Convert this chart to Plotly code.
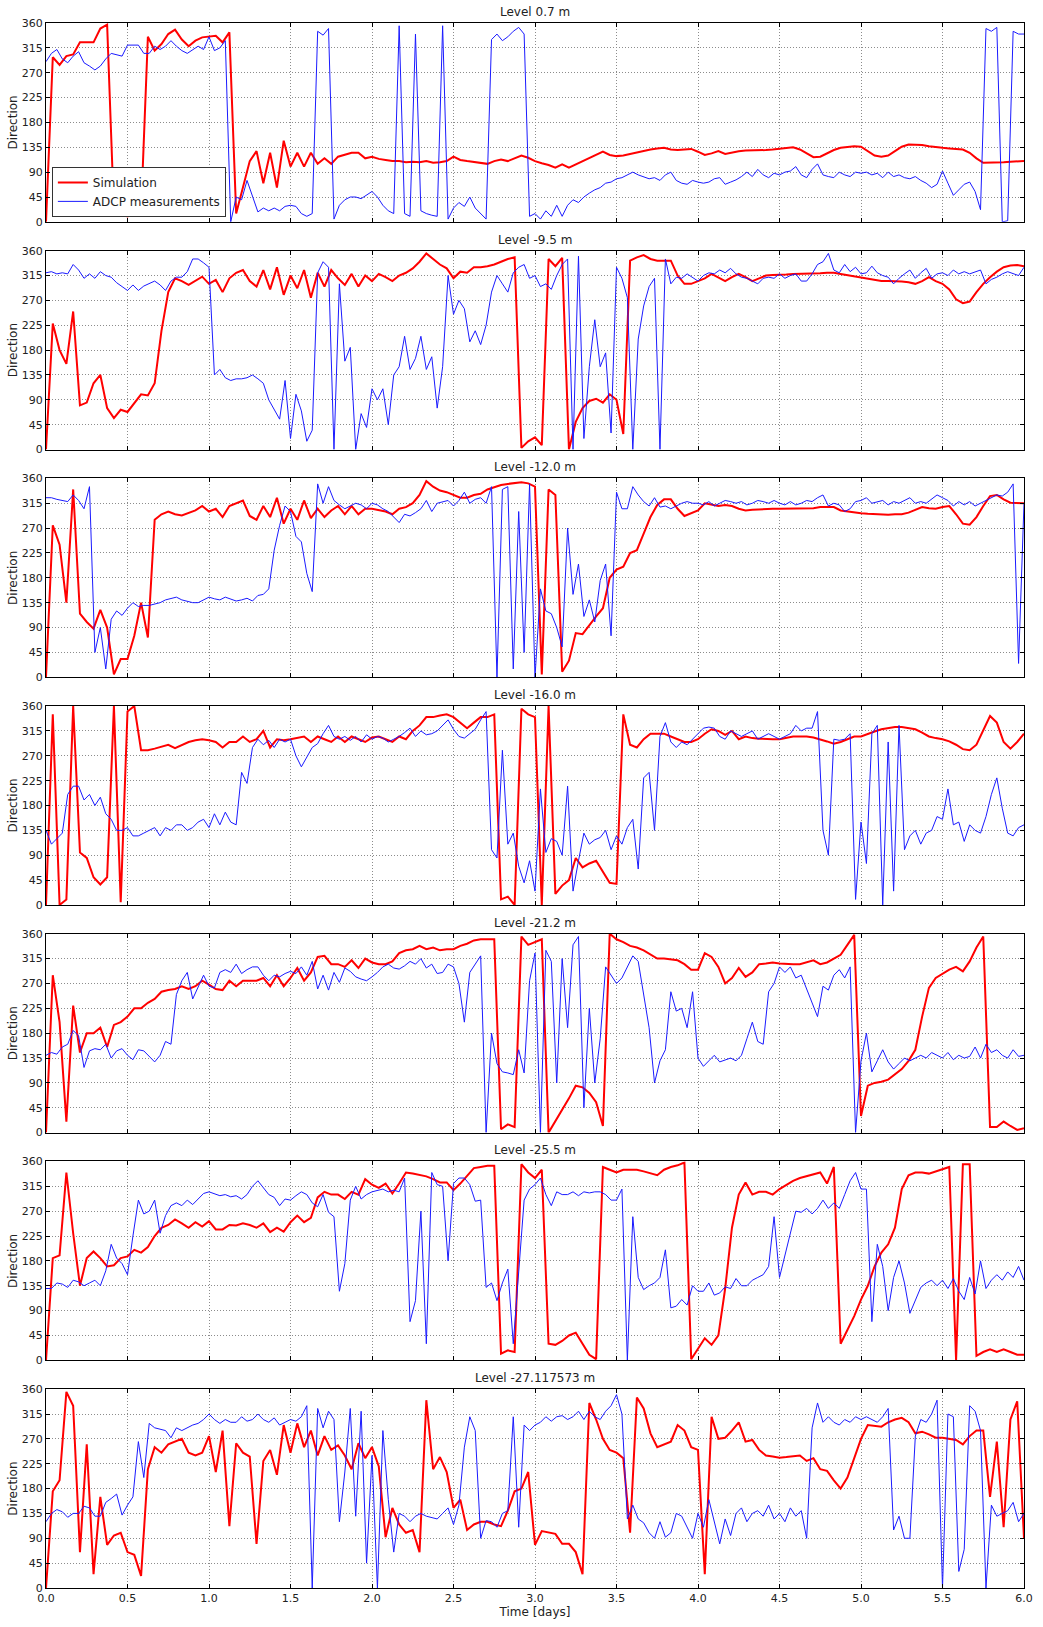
import numpy as np
import plotly.graph_objects as go

# ---------------------------------------------------------------------------
# Current direction (degrees) over 6 days at seven depth levels.
# Simulation output is hourly, ADCP record is every 48 minutes.
# ---------------------------------------------------------------------------
DAYS = 6.0
levels = ["Level 0.7 m", "Level -9.5 m", "Level -12.0 m", "Level -16.0 m",
          "Level -21.2 m", "Level -25.5 m", "Level -27.117573 m"]
series_names = ["Simulation", "ADCP measurements"]
y_ticks = [0, 45, 90, 135, 180, 225, 270, 315, 360]
x_ticks = [0.0, 0.5, 1.0, 1.5, 2.0, 2.5, 3.0, 3.5, 4.0, 4.5, 5.0, 5.5, 6.0]

# --- simulation, one row per half day --------------------------------------
sim_07 = [
    0, 298, 284, 300, 303, 325, 325, 325, 350, 357, 20, 15,
    10, 15, 20, 335, 310, 322, 340, 348, 330, 318, 328, 334,
    336, 337, 325, 343, 15, 62, 110, 128, 70, 125, 62, 147,
    100, 125, 100, 125, 105, 115, 105, 118, 122, 125, 125, 115,
    118, 114, 112, 110, 110, 108, 109, 108, 110, 107, 108, 110,
    118, 112, 110, 108, 106, 105, 110, 113, 110, 115, 120, 116,
    110, 106, 103, 98, 104, 98, 104, 110, 116, 122, 127, 121,
    119, 120, 123, 126, 129, 131, 133, 134, 131, 130, 131, 132,
    127, 121, 124, 128, 123, 126, 128, 129, 129, 130, 130, 131,
    132, 134, 135, 131, 124, 117, 118, 124, 130, 134, 136, 137,
    136, 128, 120, 118, 120, 128, 136, 140, 140, 139, 137, 135,
    134, 133, 132, 131, 125, 115, 107, 107, 107, 108, 109, 110,
    110]
sim_95 = [
    0, 228, 180, 155, 250, 80, 85, 120, 135, 75, 57, 72,
    68, 85, 100, 98, 120, 215, 285, 310, 305, 298, 305, 313,
    300, 307, 285, 310, 320, 325, 305, 295, 325, 290, 330, 280,
    315, 292, 325, 275, 320, 295, 325, 310, 298, 318, 295, 315,
    305, 318, 312, 305, 315, 320, 328, 340, 355, 345, 335, 328,
    310, 322, 320, 330, 330, 332, 335, 340, 345, 348, 3, 15,
    22, 8, 345, 332, 347, 0, 50, 75, 88, 92, 85, 100,
    90, 28, 342, 348, 352, 345, 342, 342, 342, 315, 300, 300,
    305, 310, 318, 312, 305, 312, 318, 312, 305, 310, 315, 316,
    316, 317, 318, 318, 318, 318, 319, 320, 320, 318, 316, 314,
    312, 310, 307, 305, 305, 305, 304, 303, 300, 305, 312, 305,
    300, 290, 272, 265, 268, 285, 300, 312, 322, 330, 333, 334,
    332]
sim_120 = [
    0, 275, 240, 135, 340, 115, 100, 88, 122, 90, 5, 33,
    33, 75, 135, 72, 285, 295, 300, 295, 293, 298, 302, 310,
    300, 305, 290, 310, 315, 320, 292, 285, 310, 290, 325, 278,
    305, 285, 320, 288, 305, 290, 302, 310, 295, 310, 295, 305,
    305, 303, 300, 295, 305, 308, 315, 330, 355, 345, 338, 335,
    330, 325, 325, 330, 332, 340, 344, 348, 350, 352, 353, 351,
    345, 5, 340, 330, 10, 30, 80, 78, 95, 110, 125, 180,
    195, 200, 225, 230, 260, 290, 312, 322, 322, 305, 292, 297,
    302, 315, 312, 310, 312, 310, 305, 302, 303, 304, 305, 305,
    305, 305, 305, 305, 306, 306, 308, 308, 308, 302, 300, 298,
    297, 296, 295, 294, 294, 295, 295, 298, 303, 308, 306, 305,
    308, 310, 295, 278, 276, 290, 310, 328, 330, 322, 316, 315,
    315]
sim_160 = [
    0, 345, 0, 10, 360, 95, 85, 50, 37, 50, 360, 5,
    350, 360, 280, 280, 283, 286, 290, 284, 290, 295, 298, 300,
    298, 295, 285, 295, 295, 305, 295, 300, 315, 285, 300, 298,
    300, 303, 305, 295, 305, 300, 295, 305, 295, 305, 300, 295,
    303, 305, 300, 295, 305, 300, 315, 325, 340, 340, 343, 345,
    340, 330, 320, 330, 340, 340, 345, 10, 15, 0, 355, 345,
    340, 0, 360, 20, 35, 45, 85, 68, 75, 80, 60, 40,
    38, 345, 290, 285, 300, 310, 310, 310, 305, 300, 295, 295,
    300, 310, 318, 315, 308, 315, 300, 305, 302, 301, 300, 300,
    300, 302, 305, 305, 305, 303, 300, 296, 292, 295, 300, 305,
    305, 310, 314, 318, 320, 322, 322, 320, 318, 312, 305, 302,
    300, 296, 290, 282, 280, 290, 315, 342, 330, 295, 283, 295,
    310]
sim_212 = [
    0, 285, 200, 20, 230, 145, 180, 180, 190, 155, 195, 200,
    210, 225, 225, 235, 242, 255, 258, 260, 265, 260, 265, 275,
    268, 260, 258, 275, 265, 275, 275, 275, 280, 265, 285, 265,
    280, 298, 275, 290, 318, 320, 305, 305, 300, 312, 298, 315,
    308, 305, 305, 310, 325, 330, 332, 338, 332, 335, 330, 332,
    332, 338, 342, 348, 350, 350, 350, 6, 15, 10, 355, 340,
    345, 350, 0, 20, 40, 62, 85, 82, 72, 55, 12, 360,
    350, 345, 338, 335, 330, 322, 315, 315, 313, 312, 305, 295,
    295, 325, 318, 300, 270, 280, 298, 282, 290, 305, 306, 308,
    306, 305, 305, 305, 308, 312, 305, 308, 315, 322, 340, 358,
    30, 85, 90, 92, 96, 105, 115, 130, 150, 210, 262, 280,
    288, 295, 300, 292, 310, 335, 355, 10, 10, 20, 12, 5,
    8]
sim_255 = [
    0, 185, 190, 340, 230, 135, 185, 197, 185, 170, 172, 185,
    188, 200, 195, 205, 225, 240, 245, 255, 248, 240, 250, 242,
    252, 237, 237, 245, 244, 248, 245, 240, 248, 232, 240, 233,
    250, 262, 250, 258, 295, 305, 300, 300, 292, 305, 300, 328,
    318, 312, 320, 302, 320, 340, 338, 335, 333, 328, 322, 322,
    308, 320, 335, 348, 350, 352, 352, 12, 18, 15, 355, 340,
    330, 345, 30, 28, 35, 45, 50, 30, 10, 2, 350, 345,
    340, 345, 345, 345, 342, 338, 335, 345, 350, 353, 358, 2,
    20, 40, 28, 45, 130, 240, 300, 322, 300, 305, 305, 300,
    310, 318, 325, 330, 333, 336, 340, 320, 350, 30, 55, 80,
    110, 135, 170, 195, 210, 240, 310, 335, 340, 340, 338, 342,
    346, 350, 0, 355, 355, 8, 15, 20, 15, 20, 15, 10,
    10]
sim_271 = [
    0, 175, 195, 355, 330, 65, 260, 25, 165, 78, 95, 100,
    65, 60, 22, 215, 255, 245, 260, 265, 270, 245, 240, 245,
    275, 210, 285, 112, 262, 245, 238, 80, 230, 250, 205, 295,
    245, 298, 255, 285, 240, 275, 250, 258, 240, 215, 262, 235,
    255, 220, 92, 145, 115, 100, 105, 65, 340, 215, 237, 210,
    145, 160, 105, 115, 120, 120, 115, 112, 140, 175, 180, 210,
    78, 103, 100, 98, 80, 80, 65, 25, 335, 305, 270, 250,
    245, 235, 100, 345, 325, 280, 255, 260, 265, 295, 285, 255,
    250, 25, 310, 270, 272, 285, 300, 265, 268, 250, 240, 238,
    236, 237, 238, 240, 230, 235, 215, 212, 195, 180, 200, 235,
    270, 295, 293, 292, 300, 305, 308, 300, 280, 283, 278, 272,
    272, 270, 268, 260, 275, 285, 285, 165, 265, 110, 305, 338,
    90]

# --- ADCP measurements, one row per half day -------------------------------
adcp_07 = [
    290, 305, 312, 295, 288, 300, 308, 288, 282, 275, 282, 295, 305, 302, 300,
    320, 320, 320, 305, 305, 318, 312, 318, 328, 318, 310, 305, 312, 318, 312,
    335, 310, 315, 328, 0, 45, 40, 75, 45, 18, 25, 20, 25, 20, 28,
    30, 28, 15, 10, 15, 345, 338, 350, 5, 30, 40, 45, 45, 42, 48,
    55, 45, 30, 20, 15, 355, 15, 10, 340, 20, 15, 12, 10, 355, 5,
    25, 35, 28, 45, 25, 15, 5, 330, 340, 328, 335, 345, 352, 340, 10,
    15, 5, 20, 10, 30, 10, 30, 40, 35, 45, 52, 58, 62, 70, 72,
    78, 80, 85, 90, 85, 82, 78, 80, 75, 85, 90, 75, 70, 68, 75,
    72, 70, 72, 78, 80, 68, 72, 76, 82, 90, 82, 95, 85, 80, 88,
    85, 90, 92, 100, 85, 80, 95, 105, 85, 82, 80, 90, 85, 82, 90,
    88, 90, 85, 88, 80, 90, 82, 85, 80, 78, 82, 75, 70, 62, 68,
    92, 70, 48, 58, 68, 72, 55, 22, 350, 345, 352, 0, 2, 345, 340,
    340]
adcp_95 = [
    320, 322, 318, 320, 318, 335, 325, 310, 318, 310, 322, 315, 312, 302, 295,
    288, 298, 288, 296, 300, 305, 298, 288, 305, 312, 312, 322, 345, 345, 338,
    330, 135, 145, 130, 125, 128, 128, 130, 135, 128, 120, 90, 72, 55, 125,
    20, 100, 70, 15, 35, 320, 340, 330, 0, 300, 160, 185, 0, 65, 40,
    110, 90, 110, 45, 135, 150, 205, 145, 165, 205, 145, 168, 75, 150, 315,
    245, 270, 255, 195, 215, 190, 225, 285, 315, 300, 285, 320, 330, 335, 310,
    315, 295, 300, 290, 315, 335, 345, 0, 350, 20, 150, 235, 150, 175, 30,
    330, 310, 275, 0, 200, 260, 295, 310, 0, 345, 300, 312, 310, 318, 312,
    305, 315, 320, 318, 325, 320, 328, 318, 312, 310, 305, 300, 310, 312, 310,
    318, 310, 315, 318, 305, 305, 318, 335, 340, 355, 325, 320, 335, 322, 330,
    318, 320, 332, 320, 315, 312, 300, 310, 318, 325, 310, 320, 328, 310, 318,
    320, 315, 325, 318, 322, 318, 322, 325, 300, 308, 312, 318, 322, 318, 315,
    330]
adcp_120 = [
    325, 325, 322, 320, 318, 330, 320, 305, 345, 45, 90, 15, 105, 120, 112,
    125, 135, 128, 130, 130, 133, 135, 140, 142, 145, 140, 138, 135, 135, 140,
    145, 142, 140, 145, 142, 138, 140, 143, 138, 148, 150, 160, 230, 275, 310,
    300, 255, 245, 188, 155, 350, 315, 345, 320, 312, 305, 310, 315, 312, 305,
    315, 312, 305, 300, 290, 280, 295, 292, 298, 305, 320, 300, 315, 318, 320,
    310, 320, 335, 315, 322, 325, 315, 345, 0, 340, 345, 15, 300, 45, 350,
    0, 160, 120, 115, 90, 55, 270, 150, 205, 110, 140, 100, 175, 205, 75,
    335, 305, 305, 345, 330, 318, 310, 325, 308, 310, 305, 310, 315, 318, 315,
    315, 312, 318, 310, 315, 320, 318, 315, 318, 312, 315, 320, 318, 315, 320,
    315, 312, 318, 312, 315, 320, 318, 325, 330, 310, 315, 312, 300, 305, 318,
    320, 325, 315, 318, 320, 312, 318, 315, 320, 325, 315, 318, 315, 322, 330,
    325, 320, 310, 318, 312, 318, 310, 315, 320, 325, 330, 328, 335, 350, 25,
    315]
adcp_160 = [
    135, 110, 120, 130, 200, 215, 215, 190, 200, 180, 195, 165, 155, 135, 135,
    140, 125, 125, 130, 135, 140, 125, 140, 135, 145, 145, 135, 140, 150, 155,
    140, 165, 145, 168, 150, 145, 240, 220, 285, 300, 290, 298, 285, 300, 295,
    300, 270, 250, 268, 285, 292, 310, 325, 305, 300, 305, 298, 305, 295, 308,
    300, 305, 302, 295, 300, 305, 312, 320, 305, 315, 308, 310, 315, 325, 335,
    318, 305, 302, 310, 318, 335, 350, 100, 85, 280, 110, 130, 70, 40, 80,
    25, 210, 95, 120, 115, 90, 215, 25, 80, 130, 110, 118, 122, 135, 100,
    125, 110, 140, 155, 65, 230, 240, 135, 305, 330, 295, 285, 295, 290, 300,
    310, 320, 322, 320, 305, 300, 315, 310, 305, 310, 315, 300, 305, 310, 305,
    300, 305, 310, 325, 315, 320, 320, 350, 135, 90, 300, 298, 300, 310, 10,
    150, 75, 310, 325, 0, 295, 25, 325, 100, 125, 135, 110, 130, 135, 160,
    155, 210, 145, 150, 115, 145, 135, 130, 160, 200, 230, 175, 130, 125, 140,
    145]
adcp_212 = [
    140, 145, 142, 155, 160, 185, 175, 118, 148, 152, 150, 160, 135, 148, 152,
    140, 132, 150, 148, 138, 128, 140, 165, 160, 250, 275, 290, 242, 262, 285,
    265, 262, 290, 295, 290, 305, 288, 295, 300, 300, 285, 275, 285, 282, 288,
    292, 288, 300, 285, 310, 260, 285, 258, 290, 272, 298, 292, 282, 278, 275,
    282, 290, 300, 305, 298, 296, 302, 310, 305, 315, 298, 305, 288, 290, 305,
    300, 270, 200, 290, 305, 320, 0, 180, 125, 110, 108, 105, 150, 108, 275,
    325, 0, 330, 310, 90, 315, 190, 340, 355, 45, 225, 90, 170, 300, 285,
    270, 280, 300, 320, 310, 250, 190, 90, 130, 150, 255, 220, 225, 190, 255,
    135, 120, 130, 140, 128, 132, 135, 130, 140, 170, 200, 165, 160, 255, 270,
    300, 290, 300, 280, 285, 260, 235, 210, 265, 258, 285, 295, 280, 300, 0,
    130, 180, 110, 130, 150, 128, 115, 125, 135, 130, 135, 140, 135, 145, 140,
    135, 145, 132, 140, 135, 138, 155, 135, 160, 145, 150, 140, 135, 150, 138,
    140]
adcp_255 = [
    130, 130, 140, 138, 132, 145, 142, 135, 140, 145, 135, 162, 210, 185, 175,
    155, 225, 290, 265, 270, 290, 230, 262, 280, 285, 280, 290, 282, 292, 302,
    305, 302, 298, 300, 296, 298, 292, 300, 315, 325, 312, 300, 295, 280, 292,
    290, 298, 305, 300, 285, 278, 300, 268, 260, 125, 175, 290, 315, 292, 300,
    305, 308, 310, 305, 308, 305, 330, 70, 108, 270, 30, 340, 318, 315, 180,
    320, 330, 330, 318, 288, 290, 132, 140, 108, 140, 165, 30, 160, 290, 310,
    318, 330, 300, 280, 305, 300, 300, 305, 298, 305, 303, 305, 305, 300, 290,
    290, 310, 0, 260, 150, 128, 135, 140, 150, 200, 95, 98, 110, 100, 135,
    125, 125, 140, 118, 122, 133, 130, 148, 135, 135, 145, 150, 155, 170, 260,
    150, 190, 235, 270, 268, 275, 265, 275, 290, 275, 285, 275, 300, 325, 340,
    310, 310, 70, 210, 170, 90, 150, 180, 140, 85, 110, 132, 140, 145, 135,
    145, 130, 148, 125, 110, 150, 120, 180, 130, 145, 155, 145, 160, 150, 170,
    145]
adcp_271 = [
    120, 135, 142, 138, 128, 135, 135, 148, 145, 130, 130, 155, 162, 170, 132,
    150, 165, 265, 200, 298, 290, 288, 285, 272, 290, 285, 290, 295, 298, 305,
    315, 305, 298, 305, 300, 300, 310, 302, 305, 315, 305, 300, 308, 295, 300,
    305, 302, 310, 330, 0, 325, 290, 320, 305, 120, 210, 325, 130, 320, 45,
    240, 0, 285, 160, 65, 135, 130, 120, 130, 135, 130, 128, 125, 135, 145,
    115, 150, 255, 310, 285, 90, 122, 120, 110, 135, 140, 310, 110, 295, 285,
    295, 300, 310, 302, 310, 312, 305, 310, 320, 305, 320, 310, 305, 320, 330,
    350, 315, 125, 150, 125, 118, 100, 90, 120, 92, 100, 135, 130, 110, 90,
    135, 110, 160, 120, 80, 125, 95, 135, 145, 120, 135, 140, 130, 150, 125,
    135, 120, 145, 130, 140, 90, 290, 335, 300, 310, 300, 295, 305, 300, 310,
    305, 310, 305, 300, 310, 325, 105, 130, 90, 90, 275, 305, 300, 315, 340,
    0, 315, 310, 30, 70, 330, 320, 285, 0, 150, 130, 135, 140, 155, 120,
    135]

simulation = [sim_07, sim_95, sim_120, sim_160, sim_212, sim_255, sim_271]
measured = [adcp_07, adcp_95, adcp_120, adcp_160, adcp_212, adcp_255, adcp_271]

# --- page geometry ----------------------------------------------------------
W, H = 1043, 1627
M = dict(l=46, r=10, t=23, b=30)
PANEL_PX, GAP_PX = 200, 29
area_h = H - M["t"] - M["b"]

FONT = "DejaVu Sans"
SIM_COLOR = "#ff0000"
ADCP_COLOR = "#1a1aff"
GRID = "#8c8c8c"
GRID_DASH = "1px,2px"

fig = go.Figure()
layout = {}
annotations = []
n = len(levels)

for k in range(n):
    suffix = "" if k == 0 else str(k + 1)
    top = min(1.0, max(0.0, 1 - k * (PANEL_PX + GAP_PX) / area_h))
    bottom = min(1.0, max(0.0, top - PANEL_PX / area_h))

    for name, vals, color, width in ((series_names[0], simulation[k], SIM_COLOR, 2.0),
                                     (series_names[1], measured[k], ADCP_COLOR, 1.0)):
        t = np.linspace(0.0, DAYS, len(vals))
        fig.add_trace(go.Scatter(
            x=t, y=vals, mode="lines", name=name,
            line=dict(color=color, width=width),
            xaxis="x" + suffix, yaxis="y" + suffix,
            showlegend=(k == 0), legendgroup=name,
        ))

    last = (k == n - 1)
    layout["xaxis" + suffix] = dict(
        domain=[0, 1], anchor="y" + suffix, range=[0, DAYS],
        tickvals=x_ticks, ticktext=[f"{v:.1f}" for v in x_ticks],
        showticklabels=last, ticks="inside", ticklen=4, tickcolor="black",
        showline=True, linecolor="black", linewidth=1, mirror="ticks",
        showgrid=True, gridcolor=GRID, griddash=GRID_DASH, gridwidth=1,
        zeroline=False, tickfont=dict(family=FONT, size=11, color="#222"),
        title=dict(text="Time [days]" if last else "", standoff=3,
                   font=dict(family=FONT, size=12, color="#222")),
    )
    layout["yaxis" + suffix] = dict(
        domain=[bottom, top], anchor="x" + suffix, range=[0, 360],
        tickvals=y_ticks, ticks="inside", ticklen=4, tickcolor="black",
        showline=True, linecolor="black", linewidth=1, mirror="ticks",
        showgrid=True, gridcolor=GRID, griddash=GRID_DASH, gridwidth=1,
        zeroline=False, tickfont=dict(family=FONT, size=11, color="#222"),
        title=dict(text="Direction", standoff=1,
                   font=dict(family=FONT, size=12, color="#222")),
    )
    annotations.append(dict(
        text=levels[k], xref="paper", yref="paper", x=0.5, y=top,
        xanchor="center", yanchor="bottom", yshift=2, showarrow=False,
        font=dict(family=FONT, size=12, color="#222"),
    ))

fig.update_layout(
    **layout,
    annotations=annotations,
    width=W, height=H, margin=M,
    paper_bgcolor="white", plot_bgcolor="white",
    font=dict(family=FONT, color="#222"),
    legend=dict(
        x=0.006, y=1 - (218 - M["t"]) / area_h, xanchor="left", yanchor="bottom",
        bgcolor="white", bordercolor="#333", borderwidth=1,
        font=dict(family=FONT, size=12, color="#222"),
        itemwidth=30, tracegroupgap=0,
    ),
)

fig.write_html("out.html")
